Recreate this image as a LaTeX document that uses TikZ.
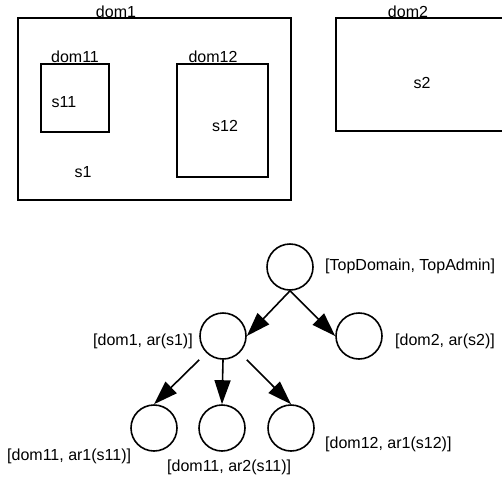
\documentclass[tikz,border=0pt]{standalone}
\usepackage{fontspec}
\setmainfont{Liberation Sans}
\usetikzlibrary{arrows.meta}
\begin{document}
\begin{tikzpicture}[x=1pt,y=-1pt,
  box/.style={draw,line width=1.6pt,inner sep=0pt},
  lbl/.style={anchor=base,inner sep=0pt,font=\fontsize{16}{19}\selectfont},
  tlbl/.style={anchor=base west,inner sep=0pt,font=\fontsize{16}{19}\selectfont},
  tn/.style={circle,draw,line width=1.6pt,minimum size=46pt,inner sep=0pt},
  arr/.style={line width=1.6pt,-{Triangle[length=24pt,width=16pt]}}]
\useasboundingbox (0,0) rectangle (502,477);
\clip (0,0) rectangle (502,477);
% domain boxes
\node[box,minimum width=273pt,minimum height=182pt] (dom1) at (154.5,109) {};
\node[box,minimum width=68pt,minimum height=68pt] (dom11) at (75,98) {};
\node[box,minimum width=91pt,minimum height=113pt] (dom12) at (222.5,120.5) {};
\node[box,minimum width=200pt,minimum height=113pt] (dom2) at (436,74.5) {};
\node[lbl] (l1) at (116,17) {dom1};
\node[lbl] (l11) at (75,62) {dom11};
\node[lbl] (l12) at (213,62) {dom12};
\node[lbl] (l2) at (408,17) {dom2};
\node[lbl] (s11) at (64,107) {s11};
\node[lbl] (s12) at (225,131) {s12};
\node[lbl] (s1) at (83,177) {s1};
\node[lbl] (s2) at (422,88) {s2};
% tree
\node[tn] (top) at (290,267) {};
\node[tn] (d1) at (223,336) {};
\node[tn] (d2) at (359,336) {};
\node[tn] (b1) at (154,428) {};
\node[tn] (b2) at (222,428) {};
\node[tn] (b3) at (291,428) {};
\node[tlbl] (ttop) at (325,270) {[TopDomain, TopAdmin]};
\node[tlbl] (td1) at (93,345) {[dom1, ar(s1)]};
\node[tlbl] (td2) at (395,345) {[dom2, ar(s2)]};
\node[tlbl] (tb1) at (7,460) {[dom11, ar1(s11)]};
\node[tlbl] (tb2) at (167,471) {[dom11, ar2(s11)]};
\node[tlbl] (tb3) at (325,448) {[dom12, ar1(s12)]};
\draw[arr] (top.south) -- (d1.east);
\draw[arr] (top.south) -- (d2.west);
\draw[arr] (d1.west |- d1.south) -- (b1.north);
\draw[arr] (d1.south) -- (b2.north);
\draw[arr] (d1.east |- d1.south) -- (b3.north);
\end{tikzpicture}
\end{document}
